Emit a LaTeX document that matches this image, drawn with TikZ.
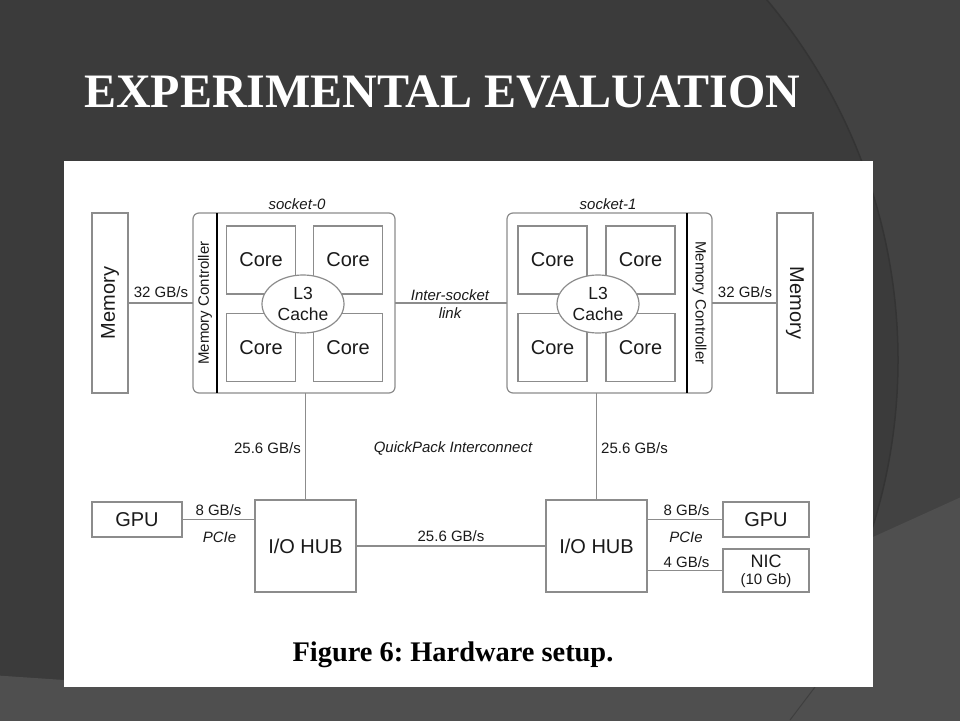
\documentclass[tikz,border=0pt]{standalone}
\usepackage{fontspec}
\setmainfont{Liberation Serif}
\setsansfont{Liberation Sans}
\usetikzlibrary{shapes.geometric}
\definecolor{bgdark}{HTML}{3B3B3B}
\definecolor{bgarc}{HTML}{424242}
\definecolor{bglow}{HTML}{4F4F4F}
\definecolor{bgline}{HTML}{343434}
\definecolor{lgray}{HTML}{8C8C8C}
\definecolor{ink}{HTML}{1A1A1A}
\frenchspacing
\begin{document}
\begin{tikzpicture}[x=1pt,y=-1pt,
  box/.style={draw=lgray, line width=1.2pt, fill=white, inner sep=0pt, outer sep=0pt, text=ink, font=\sffamily\fontsize{20}{24}\selectfont},
  sock/.style={box, rounded corners=6pt},
  lbl/.style={inner sep=0pt, text=ink, font=\sffamily\fontsize{15}{18}\selectfont},
  ilbl/.style={inner sep=0pt, text=ink, font=\sffamily\itshape\fontsize{15}{18}\selectfont},
  conn/.style={draw=lgray, line width=1.2pt},
  divider/.style={draw=black, line width=1.8pt},
  corebox/.style={box, minimum width=69pt, minimum height=68pt},
  cache/.style={box, ellipse, minimum width=82pt, minimum height=58pt, align=center, font=\sffamily\fontsize{17.5}{21}\selectfont}]
\useasboundingbox (0,0) rectangle (960,720);
% background
\fill[bgdark] (-10,-10) rectangle (970,730);
\begin{scope}
  \clip (600,-10) rectangle (970,730);
  \fill[bgarc, even odd rule] (-10,-10) rectangle (970,730) (338,360) circle (560);
  \draw[bgline, line width=1.5pt] (338,360) circle (560);
\end{scope}
\fill[bglow] (-10,675) -- (64,680) -- (873,537) -- (970,493) -- (970,730) -- (-10,730) -- cycle;
\draw[bgline!60!bglow, line width=1pt] (790,720) -- (815,687);
% panel
\fill[white] (64,161) rectangle (873,687);
% title
\node[anchor=base west, inner sep=0pt, text=white, font=\rmfamily\bfseries\fontsize{48}{56}\selectfont] (title) at (84,107) {EXPERIMENTAL EVALUATION};
% memories
\node[box, rotate=90, minimum width=180pt, minimum height=36pt] (memL) at (110,303) {Memory};
\node[box, rotate=-90, minimum width=180pt, minimum height=36pt] (memR) at (795,303) {Memory};
% sockets
\node[sock, minimum width=202pt, minimum height=180pt] (s0) at (294,303) {};
\node[sock, minimum width=205pt, minimum height=180pt] (s1) at (609.5,303) {};
\draw[divider] (217,213) -- (217,393);
\draw[divider] (687,213) -- (687,393);
\node[lbl, rotate=90] (mc0) at (205,303) {Memory Controller};
\node[lbl, rotate=-90] (mc1) at (699.5,303) {Memory Controller};
\node[ilbl] (s0lab) at (297,204) {socket-0};
\node[ilbl] (s1lab) at (608,204) {socket-1};
% cores socket 0
\node[corebox] (c00) at (261,260) {Core};
\node[corebox] (c01) at (348,260) {Core};
\node[corebox] (c02) at (261,347.5) {Core};
\node[corebox] (c03) at (348,347.5) {Core};
\node[cache] (l30) at (303,304) {L3\\Cache};
% cores socket 1
\node[corebox] (c10) at (552.5,260) {Core};
\node[corebox] (c11) at (640.5,260) {Core};
\node[corebox] (c12) at (552.5,347.5) {Core};
\node[corebox] (c13) at (640.5,347.5) {Core};
\node[cache] (l31) at (598,304) {L3\\Cache};
% memory links
\draw[conn] (memL.south) -- (s0.west);
\draw[conn] (s1.east) -- (memR.south);
\node[lbl] (bwL) at (161,292) {32 GB/s};
\node[lbl] (bwR) at (745,292) {32 GB/s};
% inter-socket
\draw[conn] (s0.east) -- (s1.west);
\node[ilbl, anchor=base] (isl1) at (450,300) {Inter-socket};
\node[ilbl, anchor=base] (isl2) at (450,318) {link};
% IO hubs
\node[box, minimum width=101pt, minimum height=92pt] (hub0) at (305.5,546) {I/O HUB};
\node[box, minimum width=101pt, minimum height=92pt] (hub1) at (596.5,546) {I/O HUB};
\draw[conn] (hub0.north) -- (hub0.north |- s0.south);
\draw[conn] (hub1.north) -- (hub1.north |- s1.south);
\node[lbl, anchor=east] (qpl) at (301,448) {25.6 GB/s};
\node[lbl, anchor=west] (qpr) at (601,448) {25.6 GB/s};
\node[ilbl] (qpi) at (453,448) {QuickPack Interconnect};
\draw[conn] (hub0.east) -- (hub1.west);
\node[lbl] (hubbw) at (451,536) {25.6 GB/s};
% GPUs and NIC
\node[box, minimum width=90pt, minimum height=35pt] (gpu0) at (137,519.5) {GPU};
\node[box, minimum width=86pt, minimum height=35pt] (gpu1) at (766,519.5) {GPU};
\node[box, minimum width=86pt, minimum height=43pt] (nic) at (766,570.5) {};
\node[inner sep=0pt, text=ink, font=\sffamily\fontsize{18}{20}\selectfont] (nict) at (766,561) {NIC};
\node[lbl] (nicg) at (766,581) {(10 Gb)};
\draw[conn] (gpu0.east) -- (gpu0.east -| hub0.west);
\draw[conn] (gpu1.west -| hub1.east) -- (gpu1.west);
\draw[conn] (nic.west -| hub1.east) -- (nic.west);
\node[lbl] (g0bw) at (218.5,510.5) {8 GB/s};
\node[ilbl] (g0pc) at (219.5,537) {PCIe};
\node[lbl] (g1bw) at (686.5,510.5) {8 GB/s};
\node[ilbl] (g1pc) at (686,537) {PCIe};
\node[lbl] (nicbw) at (686.5,562.5) {4 GB/s};
% caption
\node[anchor=base, inner sep=0pt, text=black, font=\rmfamily\bfseries\fontsize{28.4}{32}\selectfont] (cap) at (453,661) {Figure 6: Hardware setup.};
\end{tikzpicture}
\end{document}
